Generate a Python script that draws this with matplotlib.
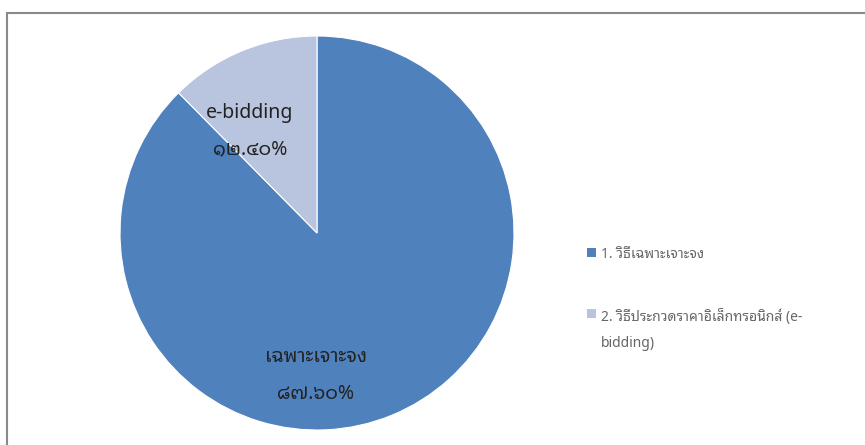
import matplotlib
matplotlib.use("Agg")
import matplotlib.pyplot as plt
from matplotlib.patches import Rectangle

plt.rcParams['font.family'] = ['Noto Sans Thai Looped', 'Noto Sans', 'DejaVu Sans']

# ข้อมูล
labels_short = ['เฉพาะเจาะจง', 'e-bidding']
legend_labels = ['1. วิธีเฉพาะเจาะจง', '2. วิธีประกวดราคาอิเล็กทรอนิกส์ (e-\nbidding)']
values = [87.60, 12.40]
colors = ['#4F81BD', '#B9C5DE']

THAI_DIGITS = str.maketrans('0123456789', '๐๑๒๓๔๕๖๗๘๙')

def thai_pct(v):
    return f"{v:.2f}".translate(THAI_DIGITS) + '%'

W, H = 865, 445
fig = plt.figure(figsize=(W / 100, H / 100), dpi=100)

# กรอบ (เห็นเฉพาะด้านบนและด้านซ้าย)
fig.patches.append(Rectangle((6.5 / W, -0.1), 1.2, 1.1 - 13 / H,
                             transform=fig.transFigure, fill=False,
                             edgecolor='#8a8a8a', linewidth=1.5))

cx, cy, r = 317, 233, 197
ax = fig.add_axes([(cx - r) / W, (H - cy - r) / H, 2 * r / W, 2 * r / H])
wedges, _ = ax.pie(values, colors=colors, startangle=90, counterclock=False,
                   radius=1.0, wedgeprops=dict(linewidth=0.8, edgecolor='white'))
ax.set_xlim(-1, 1)
ax.set_ylim(-1, 1)
ax.set_aspect('equal')
ax.axis('off')

# ป้ายข้อมูล
label_pos = [(-0.005, -0.72), (-0.34, 0.52)]
for (x, y), name, v in zip(label_pos, labels_short, values):
    ax.text(x, y + 0.09, name, ha='center', va='center', fontsize=14, color='#222222')
    ax.text(x, y - 0.095, thai_pct(v), ha='center', va='center', fontsize=14, color='#222222')

# คำอธิบายสัญลักษณ์
legend_y = [252.5, 313.5]
for yy, lab, col in zip(legend_y, legend_labels, colors):
    fig.patches.append(Rectangle((587 / W, 1 - (yy + 4.5) / H), 9 / W, 9 / H,
                                 transform=fig.transFigure, facecolor=col,
                                 edgecolor='none'))
    fig.text(601 / W, 1 - (yy - 5) / H, lab, ha='left', va='top', fontsize=10,
             color='#666666', linespacing=2.0)

fig.savefig('out.png', dpi=100)
